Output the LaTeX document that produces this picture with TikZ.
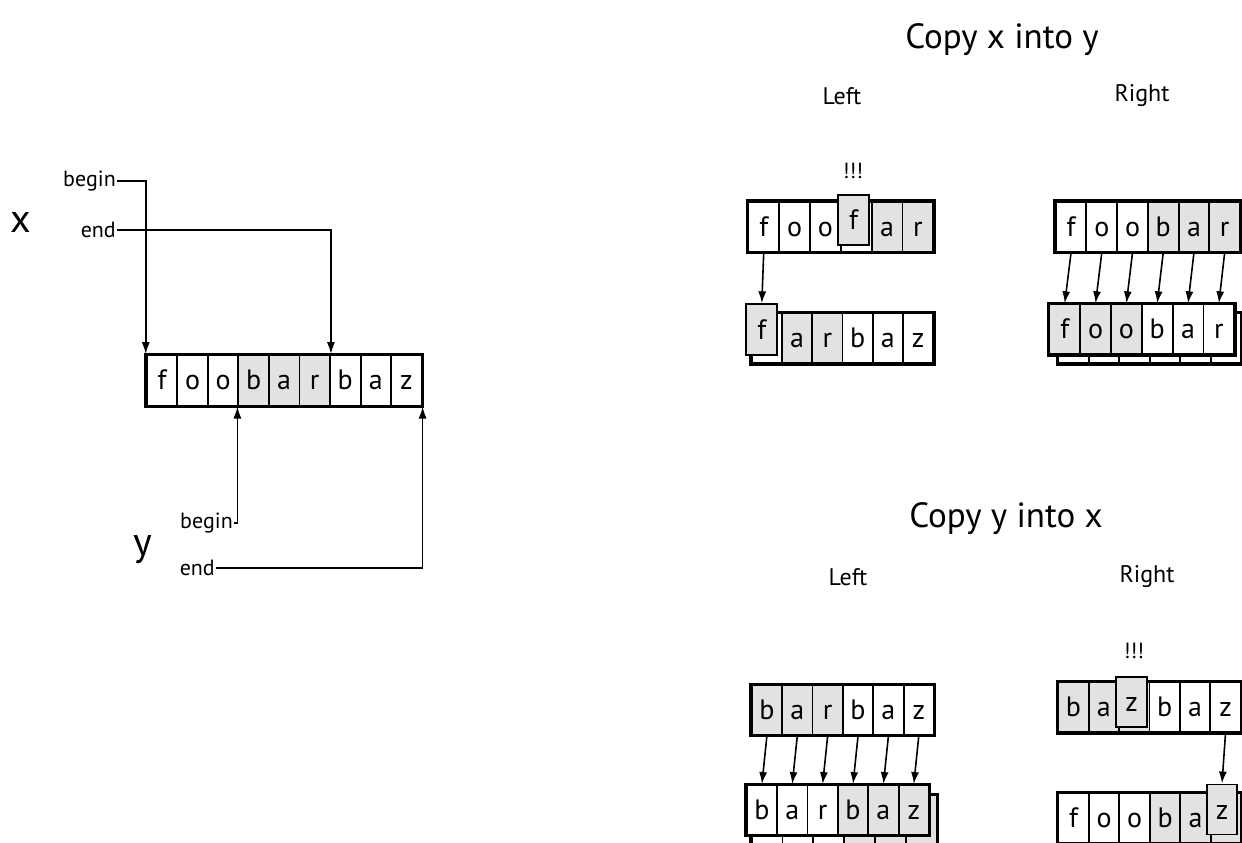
\documentclass[tikz,border=0pt]{standalone}
\usepackage{fontspec}
\setmainfont{PT Sans}
\usetikzlibrary{arrows.meta}
\definecolor{cellgray}{HTML}{E2E2E2}
\newcommand\cellletterfont{\fontsize{28}{32}\selectfont}
\newcommand\cellrow[6]{% #1 name, #2 left x, #3 centre y, #4 cell width, #5 height, #6 letter/colour list
  \foreach \t/\c [count=\i from 0] in {#6} {
    \node[cell, fill=\c, minimum width=#4pt, minimum height=#5pt] (#1-\i) at ({#2+#4*(\i+0.5)},#3) {\t};
  }
}
\tikzset{
  cell/.style={draw, line width=1.9pt, inner sep=0pt, font=\cellletterfont, text height=19pt, text depth=0pt},
  rowframe/.style={draw, line width=2.6pt},
  ptr/.style={-{Latex[length=12pt,width=8pt]}, line width=1.6pt},
  lbl/.style={inner sep=1pt, font=\fontsize{22}{26}\selectfont},
  varname/.style={inner sep=0pt, font=\fontsize{40}{46}\selectfont},
  title/.style={inner sep=0pt, font=\fontsize{35}{40}\selectfont},
  side/.style={inner sep=0pt, font=\fontsize{24}{28}\selectfont},
  bang/.style={inner sep=0pt, font=\fontsize{22}{26}\selectfont},
}
\begin{document}
\begin{tikzpicture}[x=1pt,y=-1pt]
\useasboundingbox (0,0) rectangle (1242,843);
\fill[white] (0,0) rectangle (1242,843);
\clip (0,0) rectangle (1242,843);

% ---------------- left: x and y ranges on one buffer
\cellrow{L}{146.7}{380.3}{30.55}{50.5}{f/white,o/white,o/white,b/cellgray,a/cellgray,r/cellgray,b/white,a/white,z/white}
\draw[rowframe] (L-0.north west) rectangle (L-8.south east);
\node[varname] (vx) at (21,222) {x};
\node[varname] (vy) at (143,550) {y};
\node[lbl, anchor=east] (xb) at (117,181) {begin};
\node[lbl, anchor=east] (xe) at (117,230) {end};
\node[lbl, anchor=east] (yb) at (234,523) {begin};
\node[lbl, anchor=east] (ye) at (216,568) {end};
\draw[ptr] (xb.east) -| (L-0.north west);
\draw[ptr] (xe.east) -| (L-5.north east);
\draw[ptr] (yb.east) -| (L-3.south west);
\draw[ptr] (ye.east) -| (L-8.south east);

% ---------------- titles
\node[title] (t1) at (1002,40) {Copy x into y};
\node[side] (t1l) at (842,96) {Left};
\node[side] (t1r) at (1142,96) {Right};
\node[title] (t2) at (1006,519) {Copy y into x};
\node[side] (t2l) at (848,577) {Left};
\node[side] (t2r) at (1147,577) {Right};

% ---------------- copy x into y, left
\node[bang] (b1) at (853,171) {!!!};
\cellrow{TLx}{748.3}{226.7}{30.83}{50}{f/white,o/white,o/white,{}/white,a/cellgray,r/cellgray}
\draw[rowframe] (TLx-0.north west) rectangle (TLx-5.south east);
\node[cell, fill=cellgray, minimum width=31pt, minimum height=50pt] (TLxo) at (853.5,219.7) {f};
\cellrow{TLy}{751.7}{338.3}{30.27}{50}{{}/white,a/cellgray,r/cellgray,b/white,a/white,z/white}
\draw[rowframe] (TLy-0.north west) rectangle (TLy-5.south east);
\node[cell, fill=cellgray, minimum width=31pt, minimum height=51pt] (TLyo) at (761.8,329.8) {f};
\draw[ptr] (TLx-0.south) -- (TLyo.north);

% ---------------- copy x into y, right
\cellrow{TRx}{1055.7}{226.7}{30.72}{50}{f/white,o/white,o/white,b/cellgray,a/cellgray,r/cellgray}
\draw[rowframe] (TRx-0.north west) rectangle (TRx-5.south east);
\cellrow{TRs}{1058.3}{338.3}{30.45}{50}{{}/white,{}/white,{}/white,{}/white,{}/white,{}/white}
\draw[rowframe] (TRs-0.north west) rectangle (TRs-5.south east);
\cellrow{TRy}{1049.3}{329.3}{30.83}{50}{f/cellgray,o/cellgray,o/cellgray,b/white,a/white,r/white}
\draw[rowframe] (TRy-0.north west) rectangle (TRy-5.south east);
\foreach \i in {0,...,5} { \draw[ptr] (TRx-\i.south) -- (TRy-\i.north); }

% ---------------- copy y into x, left
\cellrow{BLx}{751.7}{710}{30.38}{50}{b/cellgray,a/cellgray,r/cellgray,b/white,a/white,z/white}
\draw[rowframe] (BLx-0.north west) rectangle (BLx-5.south east);
\cellrow{BLs}{751.7}{820}{30.83}{50}{{}/white,{}/white,{}/white,{}/cellgray,{}/cellgray,{}/cellgray}
\draw[rowframe] (BLs-0.north west) rectangle (BLs-5.south east);
\cellrow{BLy}{746.7}{810}{30.38}{50}{b/white,a/white,r/white,b/cellgray,a/cellgray,z/cellgray}
\draw[rowframe] (BLy-0.north west) rectangle (BLy-5.south east);
\foreach \i in {0,...,5} { \draw[ptr] (BLx-\i.south) -- (BLy-\i.north); }

% ---------------- copy y into x, right
\node[bang] (b2) at (1134,651) {!!!};
\cellrow{BRy}{1058.3}{707.3}{30.4}{50}{b/cellgray,a/cellgray,{}/cellgray,b/white,a/white,z/white}
\draw[rowframe] (BRy-0.north west) rectangle (BRy-5.south east);
\node[cell, fill=cellgray, minimum width=31pt, minimum height=50pt] (BRyo) at (1131.7,702) {z};
\cellrow{BRx}{1058.3}{818.3}{30.5}{50}{f/white,o/white,o/white,b/cellgray,a/cellgray,{}/cellgray}
\draw[rowframe] (BRx-0.north west) rectangle (BRx-5.south east);
\node[cell, fill=cellgray, minimum width=30pt, minimum height=50pt] (BRxo) at (1222,809.5) {z};
\draw[ptr] (BRy-5.south) -- (BRxo.north);
\end{tikzpicture}
\end{document}
